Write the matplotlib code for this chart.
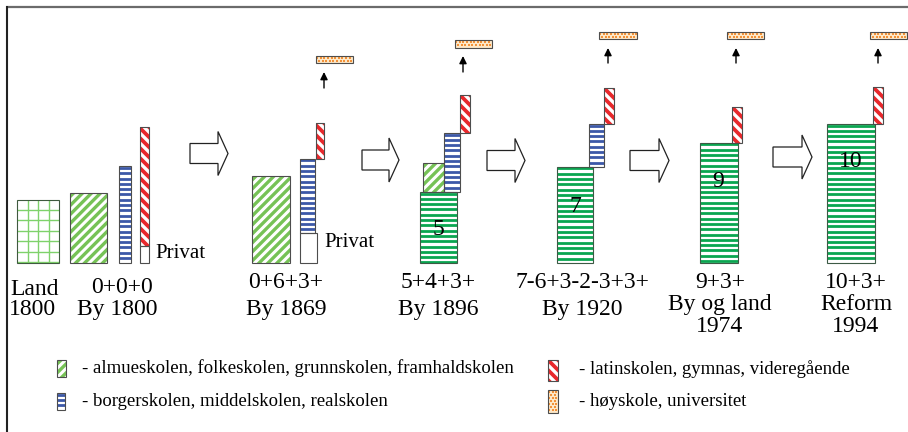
import matplotlib
matplotlib.use("Agg")
import matplotlib.pyplot as plt
from matplotlib.patches import Rectangle, Polygon
from matplotlib.collections import LineCollection
import numpy as np

# ---------------- data (durations in years) ----------------
stage_top = ["Land", "0+0+0", "0+6+3+", "5+4+3+", "7-6+3-2-3+3+", "9+3+", "10+3+"]
stage_mid = ["1800", "By 1800", "By 1869", "By 1896", "By 1920", "By og land", "Reform"]
stage_bot = ["", "", "", "", "", "1974", "1994"]
stage_x = [34, 118, 286, 438, 582, 720, 856]

# block kinds: grid (Land), diag (almue), blue (borger), dgreen (grunnskole), red (latin),
# priv (private), orange (university)
block_kind = ["grid", "diag", "blue", "priv", "red",
              "diag", "priv", "blue", "red", "orange",
              "dgreen", "diag", "blue", "red", "orange",
              "dgreen", "blue", "red", "orange",
              "dgreen", "red", "orange",
              "dgreen", "red", "orange"]
block_x = [17, 70, 119, 140, 140,
           252, 300, 300, 316, 316,
           420, 423, 444, 460, 455,
           557, 589, 604, 599,
           700, 732, 727,
           827, 873, 870]
block_w = [42, 37, 12, 9, 9,
           38, 17, 15, 8, 37,
           37, 21, 16, 10, 37,
           36, 15, 10, 38,
           38, 10, 37,
           48, 10, 37]
block_bottom = [0, 0, 0, 0, 1.2,
                0, 0, 2.2, 7.54, 14.5,
                0, 5.14, 5.14, 9.42, 15.58,
                0, 6.96, 10.07, 16.23,
                0, 8.70, 16.23,
                0, 10.07, 16.23]
block_height = [4.57, 5.1, 7.0, 1.2, 8.65,
                6.3, 2.2, 5.34, 2.6, 0.5,
                5.14, 2.11, 4.28, 2.75, 0.58,
                6.96, 3.11, 2.61, 0.51,
                8.70, 2.6, 0.51,
                10.07, 2.68, 0.51]

box_numbers = ["5", "7", "9", "10"]
box_num_x = [438, 575, 718, 851]
box_num_y = [2.4, 4.06, 5.87, 7.32]

up_arrow_x = [324, 463, 608, 736, 878]
up_arrow_from = [12.68, 13.84, 14.49, 14.49, 14.49]
up_arrow_to = [13.84, 15.0, 15.58, 15.58, 15.58]

privat_x = [155, 324]
privat_y = [0.72, 1.52]

legend_kinds = ["diag", "blue", "red", "orange"]
legend_texts = ["- almueskolen, folkeskolen, grunnskolen, framhaldskolen",
                "- borgerskolen, middelskolen, realskolen",
                "- latinskolen, gymnas, videregående",
                "- høyskole, universitet"]

# ---------------- layout helpers ----------------
W, H, DPI = 908, 432, 100
BASE, SCALE = 263.0, 13.8


def Y(py):
    return (BASE - py) / SCALE


def PY(y):
    return BASE - y * SCALE


GRID_GREEN = "#7fd26b"
LIGHT_GREEN = "#76c256"
DARK_GREEN = "#0aa650"
BLUE = "#3c58a8"
RED = "#e8282c"
ORANGE = "#f2923a"
BEIGE = "#fde8c8"
EDGE = "#4d4d4d"
FONT = "Liberation Serif"

fig = plt.figure(figsize=(W / DPI, H / DPI), dpi=DPI)
ax = fig.add_axes([0, 0, 1, 1])
ax.set_xlim(0, W)
ax.set_ylim(Y(H), Y(0))
ax.axis("off")


def add_lines(segs, color, lw, clip):
    lc = LineCollection(segs, colors=color, linewidths=lw, capstyle="butt", zorder=2)
    ax.add_collection(lc)
    lc.set_clip_path(clip)


def draw_box(kind, x0, x1, p_top, p_bot):
    """x in pixels, p_top/p_bot in pixel rows"""
    bg = BEIGE if kind == "orange" else "white"
    rect = Rectangle((x0, Y(p_bot)), x1 - x0, Y(p_top) - Y(p_bot),
                     facecolor=bg, edgecolor="none", zorder=1)
    ax.add_patch(rect)
    edge = EDGE
    if kind == "grid":
        segs = []
        for xv in np.arange(x0 + 11.0, x1, 10.4):
            segs.append([(xv, Y(p_top)), (xv, Y(p_bot))])
        for pv in np.arange(p_top + 10.0, p_bot, 10.5):
            segs.append([(x0, Y(pv)), (x1, Y(pv))])
        add_lines(segs, GRID_GREEN, 1.0, rect)
        edge = "#3f5a3f"
    elif kind in ("blue", "dgreen"):
        color = BLUE if kind == "blue" else DARK_GREEN
        segs = [[(x0, Y(pv)), (x1, Y(pv))] for pv in np.arange(p_top + 1.5, p_bot, 5.3)]
        add_lines(segs, color, 2.0, rect)
        if kind == "dgreen":
            edge = "#3d5a45"
    elif kind == "diag":
        segs = []
        for c in np.arange(x0 + p_top - 5, x1 + p_bot + 10, 9.0):
            xa, xb = x0 - 60, x1 + 60
            segs.append([(xa, Y(c - xa)), (xb, Y(c - xb))])
        add_lines(segs, LIGHT_GREEN, 2.4, rect)
    elif kind == "red":
        segs = []
        for c in np.arange(p_top - x1 - 10, p_bot - x0 + 10, 10.0):
            xa, xb = x0 - 60, x1 + 60
            segs.append([(xa, Y(xa + c)), (xb, Y(xb + c))])
        add_lines(segs, RED, 2.7, rect)
    elif kind == "orange":
        xs, ys = [], []
        r = 0
        for pv in np.arange(p_top + 1.6, p_bot - 0.5, 3.0):
            off = 1.2 if r % 2 == 0 else 3.0
            for xv in np.arange(x0 + off, x1 - 0.5, 3.6):
                xs.append(xv)
                ys.append(Y(pv))
            r += 1
        sc = ax.scatter(xs, ys, s=2.2, marker="s", color=ORANGE, linewidths=0, zorder=2)
        sc.set_clip_path(rect)
    ax.add_patch(Rectangle((x0, Y(p_bot)), x1 - x0, Y(p_top) - Y(p_bot),
                           facecolor="none", edgecolor=edge, linewidth=0.8, zorder=3))


# ---------------- frame ----------------
ax.plot([6, W], [Y(6.5), Y(6.5)], color="#6b6b6b", lw=1.6, solid_capstyle="butt")
ax.plot([6.5, 6.5], [Y(6), Y(H)], color="#222222", lw=1.5, solid_capstyle="butt")

# ---------------- blocks ----------------
for k, x, w, b, h in zip(block_kind, block_x, block_w, block_bottom, block_height):
    draw_box(k, x, x + w, PY(b + h), PY(b))

# ---------------- numbers in boxes ----------------
for t, x, y in zip(box_numbers, box_num_x, box_num_y):
    ax.text(x, y, t, ha="center", va="center", fontsize=17, family=FONT, zorder=5)

# ---------------- Privat ----------------
for x, y in zip(privat_x, privat_y):
    ax.text(x, y, "Privat", ha="left", va="center", fontsize=15, family=FONT)

# ---------------- small up arrows ----------------
for x, y0, y1 in zip(up_arrow_x, up_arrow_from, up_arrow_to):
    ax.annotate("", xy=(x, y1), xytext=(x, y0),
                arrowprops=dict(arrowstyle="-|>", color="black", lw=1.0,
                                mutation_scale=11, shrinkA=0, shrinkB=0))

# ---------------- hollow block arrows ----------------
arr_x0 = [190, 362, 487, 630, 773]
arr_x1 = [228, 399, 525, 669, 812]
arr_mid = [153.5, 160, 160.5, 160.5, 157]
for x0, x1, m in zip(arr_x0, arr_x1, arr_mid):
    xh = x1 - 10
    pts = [(x0, m - 10), (xh, m - 10), (xh, m - 22), (x1, m), (xh, m + 22),
           (xh, m + 10), (x0, m + 10)]
    ax.add_patch(Polygon([(px, Y(py)) for px, py in pts], closed=True,
                         facecolor="white", edgecolor="#222222", lw=0.9, zorder=3))

# ---------------- stage labels ----------------
for i, (t1, t2, t3, x) in enumerate(zip(stage_top, stage_mid, stage_bot, stage_x)):
    if t3:
        ax.text(x, Y(288), t1, ha="center", va="baseline", fontsize=17, family=FONT)
        ax.text(x, Y(310), t2, ha="center", va="baseline", fontsize=17, family=FONT)
        ax.text(x, Y(332), t3, ha="center", va="baseline", fontsize=17, family=FONT)
    elif i == 0:
        ax.text(10, Y(295), t1, ha="left", va="baseline", fontsize=17, family=FONT)
        ax.text(9, Y(315), t2, ha="left", va="baseline", fontsize=17, family=FONT)
    elif i == 1:
        ax.text(x + 4, Y(293), t1, ha="center", va="baseline", fontsize=17, family=FONT)
        ax.text(x - 1, Y(315), t2, ha="center", va="baseline", fontsize=17, family=FONT)
    else:
        ax.text(x, Y(288), t1, ha="center", va="baseline", fontsize=17, family=FONT)
        ax.text(x, Y(315), t2, ha="center", va="baseline", fontsize=17, family=FONT)

# ---------------- legend ----------------
leg_sw_x = [57, 57, 548, 548]
leg_sw_w = [9, 8, 10, 10]
leg_sw_top = [360, 393, 360, 390]
leg_sw_bot = [377, 410, 381, 413]
leg_tx_x = [82, 82, 579, 579]
leg_tx_y = [368, 401, 369, 401]
for k, t, sx, sw, st, sb, tx, ty in zip(legend_kinds, legend_texts, leg_sw_x, leg_sw_w,
                                          leg_sw_top, leg_sw_bot, leg_tx_x, leg_tx_y):
    draw_box(k, sx, sx + sw, st, sb)
    ax.text(tx, Y(ty), t, ha="left", va="center", fontsize=13.5, family=FONT)

fig.savefig("out.png", dpi=DPI)
